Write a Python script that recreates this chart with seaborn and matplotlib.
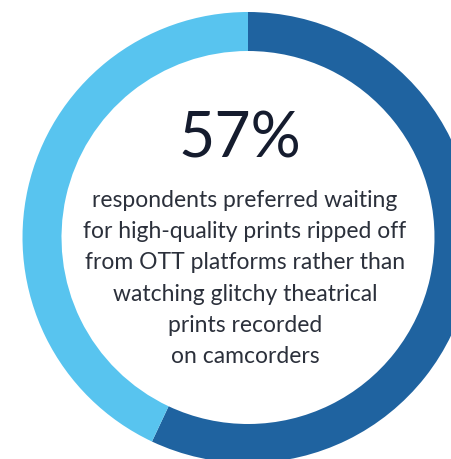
import matplotlib.pyplot as plt
import seaborn as sns

sns.set_theme(style="white")
plt.rcParams['font.family'] = ['Lato', 'DejaVu Sans']

# ----- donnees -----
parts = ["Preferred waiting for OTT prints", "Others"]
valeurs = [57, 43]
couleurs = ["#1f63a0", "#58c4ef"]
chiffre = "57%"
texte = ("respondents preferred waiting\n"
         "for high-quality prints ripped off\n"
         "from OTT platforms rather than\n"
         "watching glitchy theatrical\n"
         "prints recorded\n"
         "on camcorders")

fig = plt.figure(figsize=(4.51, 4.60), dpi=100)
ax = fig.add_axes([0, 0, 1, 1])

# coordonnees en pixels (y vers le haut)
cx, cy, r = 248, 221.5, 225.5
ax.pie(valeurs, colors=couleurs, startangle=90, counterclock=False,
       center=(cx, cy), radius=r, wedgeprops=dict(width=39, linewidth=0))
ax.set_xlim(0, 451)
ax.set_ylim(0, 460)
ax.set_aspect("equal")
ax.axis("off")

ax.text(240, 302, chiffre, ha="center", va="baseline", fontsize=45,
        color="#151c2e")
ax.text(245, 270, texte, ha="center", va="top", fontsize=16.5,
        color="#2b303b", linespacing=1.6)

fig.savefig("out.png", dpi=100)
